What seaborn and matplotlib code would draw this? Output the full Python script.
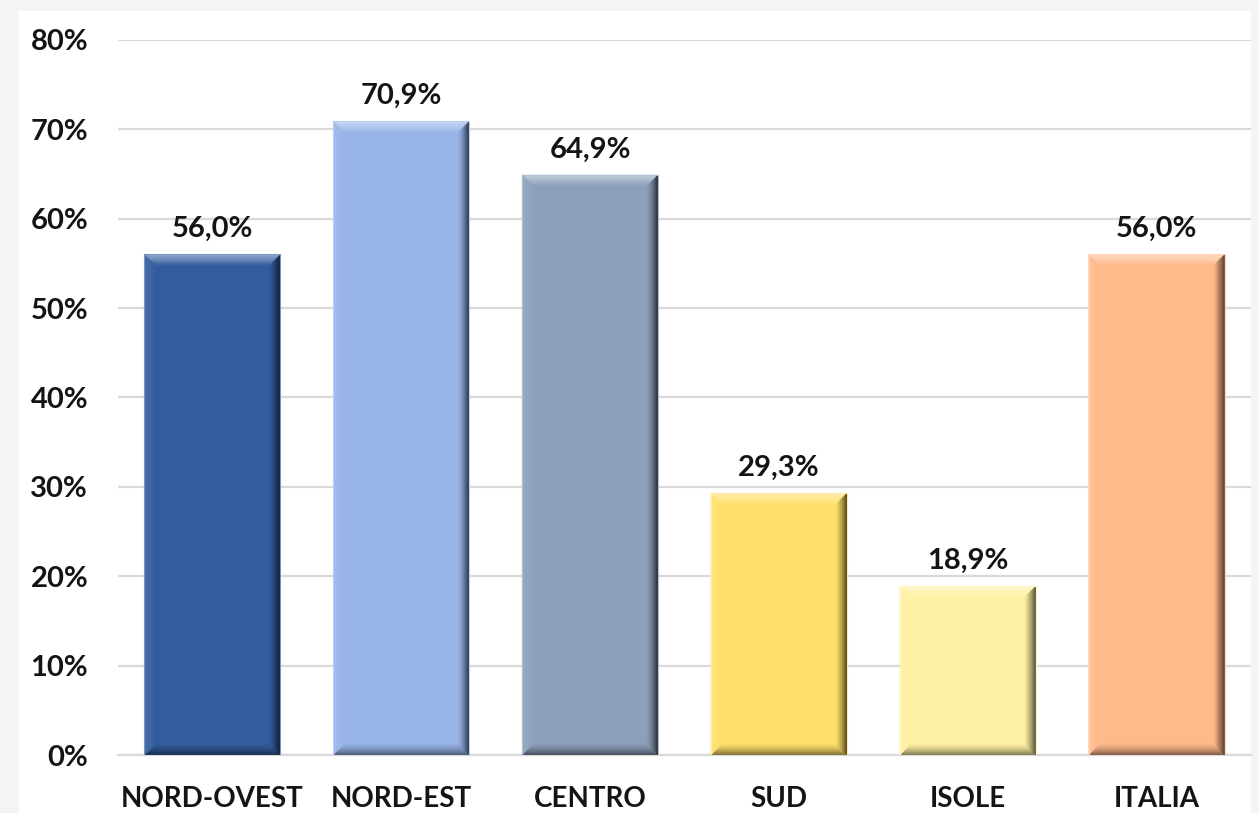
import numpy as np
import pandas as pd
import matplotlib
matplotlib.use("Agg")
import matplotlib.pyplot as plt
from matplotlib.patches import Polygon, Rectangle
from matplotlib.colors import to_rgb
import seaborn as sns

# Data
regions = ["NORD-OVEST", "NORD-EST", "CENTRO", "SUD", "ISOLE", "ITALIA"]
shares = [56.0, 70.9, 64.9, 29.3, 18.9, 56.0]
bar_colors = ["#325C9E", "#98B4E8", "#8CA0BA", "#FFE06B", "#FFF1A3", "#FFB98A"]
y_ticks = [0, 10, 20, 30, 40, 50, 60, 70, 80]

sns.set_theme(style="white")
plt.rcParams["font.family"] = ["Lato", "DejaVu Sans"]
plt.rcParams["font.weight"] = "bold"

text_color = "#141414"
grid_color = "#d9d9d9"

fig = plt.figure(figsize=(12.59, 8.13), dpi=100, facecolor="#f4f4f4")
# white plot card behind the axes
fig.patches.append(Rectangle((19 / 1259, 0), (1251 - 19) / 1259, (813 - 11) / 813,
                             transform=fig.transFigure, facecolor="white",
                             edgecolor="none", zorder=-5))
ax = fig.add_axes([118 / 1259, (813 - 755) / 813, (1251 - 118) / 1259, (755 - 40) / 813])
ax.set_facecolor("none")

df = pd.DataFrame({"region": regions, "share": shares})
sns.barplot(data=df, x="region", y="share", hue="region", palette=bar_colors,
            width=0.72, legend=False, ax=ax, saturation=1, zorder=2,
            edgecolor="none", linewidth=0)

ax.set_xlim(-0.5, 5.5)
ax.set_ylim(0, 80)
ax.set_yticks(y_ticks)
ax.set_yticklabels([f"{t}%" for t in y_ticks])
ax.set_xlabel("")
ax.set_ylabel("")
ax.yaxis.grid(True, color=grid_color, linewidth=1.6, zorder=0)
ax.set_axisbelow(True)
for side in ["left", "right", "top"]:
    ax.spines[side].set_visible(False)
ax.spines["bottom"].set_color(grid_color)
ax.spines["bottom"].set_linewidth(1.6)
ax.spines["bottom"].set_zorder(1)
ax.tick_params(axis="y", length=0, pad=21.5, labelsize=21, labelcolor=text_color)
ax.tick_params(axis="x", length=0, pad=22, labelsize=20, labelcolor=text_color)
for lbl in ax.get_xticklabels() + ax.get_yticklabels():
    lbl.set_fontweight("bold")


def blend(c, target, t):
    c = np.array(to_rgb(c))
    target = np.array(to_rgb(target))
    return tuple(c * (1 - t) + target * t)


# Bevelled bar edges drawn from each bar's own geometry
fig.canvas.draw()
inv = ax.transData.inverted()
bevel_px = 11
layers = 10
bars = list(ax.patches)
for bar, base in zip(bars, bar_colors):
    x0, y0 = bar.get_x(), bar.get_y()
    x1, y1 = x0 + bar.get_width(), y0 + bar.get_height()
    p0 = ax.transData.transform((x0, y0))
    p1 = ax.transData.transform((x1, y1))
    for k in range(layers):
        a = bevel_px * k / layers
        b = bevel_px * (k + 1) / layers
        t = 1 - k / layers
        oa = (p0[0] + a, p0[1] + a, p1[0] - a, p1[1] - a)
        ob = (p0[0] + b, p0[1] + b, p1[0] - b, p1[1] - b)
        sides = {
            "top": ([(oa[0], oa[3]), (oa[2], oa[3]), (ob[2], ob[3]), (ob[0], ob[3])],
                    blend(base, "white", 0.5 * t)),
            "left": ([(oa[0], oa[1]), (oa[0], oa[3]), (ob[0], ob[3]), (ob[0], ob[1])],
                     blend(base, "white", 0.12 * t)),
            "right": ([(oa[2], oa[1]), (oa[2], oa[3]), (ob[2], ob[3]), (ob[2], ob[1])],
                      blend(base, "black", 0.7 * t ** 1.3)),
            "bottom": ([(oa[0], oa[1]), (oa[2], oa[1]), (ob[2], ob[1]), (ob[0], ob[1])],
                       blend(base, "black", 0.5 * t ** 1.3)),
        }
        for name in ["top", "bottom", "left", "right"]:
            verts, col = sides[name]
            ax.add_patch(Polygon([inv.transform(v) for v in verts], closed=True,
                                 facecolor=col, edgecolor=col, linewidth=0.3,
                                 zorder=3))
    # thin light rim
    ax.add_patch(Rectangle((x0, y0), x1 - x0, y1 - y0, facecolor="none",
                           edgecolor=blend(base, "white", 0.35), linewidth=0.8,
                           zorder=4))

for bar, v in zip(bars, shares):
    ax.annotate(f"{v:.1f}".replace(".", ",") + "%",
                xy=(bar.get_x() + bar.get_width() / 2, v),
                xytext=(0, 9), textcoords="offset points",
                ha="center", va="bottom", fontsize=21, fontweight="bold",
                color=text_color, zorder=5)

fig.savefig("out.png", dpi=100, facecolor=fig.get_facecolor())
